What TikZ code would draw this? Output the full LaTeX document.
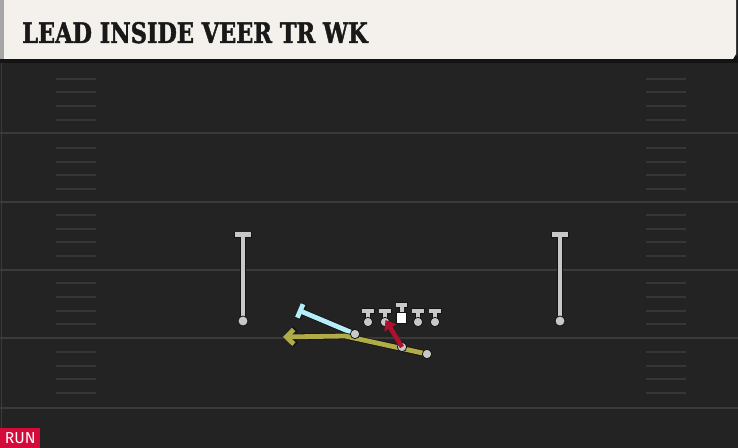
\documentclass[tikz,border=0pt]{standalone}
\usepackage{fontspec}
\newfontfamily\titlefont{DejaVu Serif Condensed}[BoldFeatures={FakeBold=1.6}]
\newfontfamily\tagfont{Fira Sans}
\usetikzlibrary{arrows.meta,positioning}

\definecolor{fieldbg}{HTML}{232323}
\definecolor{yardgray}{HTML}{3A3A3A}
\definecolor{hashgray}{HTML}{363636}
\definecolor{titlebg}{HTML}{F4F1EC}
\definecolor{playergray}{HTML}{C8C8C8}
\definecolor{outline}{HTML}{141414}
\definecolor{veerblue}{HTML}{B4EEF8}
\definecolor{leadolive}{HTML}{B0AD48}
\definecolor{blockred}{HTML}{AE102E}
\definecolor{runred}{HTML}{D40A3A}

\tikzset{
	yard/.style={yardgray,line width=1.6},
	hash/.style={hashgray,line width=1.3},
	dotplayer/.style={circle,fill=playergray,draw=outline,line width=0.6,inner sep=0pt,minimum size=7},
	rec/.style={playergray,line width=3.6},
	recline/.style={outline,line width=4.8},
	lineman/.pic={
		\draw[outline,line width=4.2] (-6.5,-11) -- (6.5,-11) (0,-11) -- (0,0);
		\draw[playergray,line width=3] (-6,-11) -- (6,-11) (0,-11) -- (0,0);
		\node[dotplayer] at (0,0) {};
	}
}

\begin{document}
\begin{tikzpicture}[x=0.75pt,y=-0.75pt]
	\fill[fieldbg] (0,0) rectangle (738,448);
	\useasboundingbox (0,0) rectangle (738,448);
	\draw[yardgray,line width=1.2] (1.5,60) -- (1.5,428);

	% field
	\foreach \y in {133,202,270,338,408}
		\draw[yard] (0,\y) -- (738,\y);
	\foreach \y in {79,92,106,120,148,162,175,189,215,229,242,256,283,297,311,324,352,366,379,393}
	{
		\draw[hash] (56,\y) -- (96,\y);
		\draw[hash] (646,\y) -- (686,\y);
	}

	% title bar
	\fill[outline] (0,56) rectangle (738,63);
	\fill[titlebg] (4,0) -- (736,0) -- (736,54) -- (733,59) -- (4,59) -- cycle;
	\fill[gray!70] (0,0) rectangle (4,59);
	\node[anchor=base west,inner sep=0pt,text=black!90] (title) at (22,43)
		{\resizebox{259pt}{15.75pt}{\titlefont\bfseries LEAD INSIDE VEER TR WK}};

	% receivers
	\coordinate (WRL) at (243,321);
	\coordinate (WRLtop) at (243,232);
	\coordinate (WRR) at (560,321);
	\coordinate (WRRtop) at (560,232);
	\foreach \w in {WRL,WRR}
	{
		\draw[recline,-{Bar[width=13]}] (\w) -- (\w top);
		\draw[rec,-{Bar[width=11.5]}] (\w) -- (\w top);
		\node[dotplayer,minimum size=7.5] (\w dot) at (\w) {};
	}

	% line
	\foreach \x [count=\n] in {368,385,418,435}
		\pic (OL\n) at (\x,322) {lineman};
	\coordinate (C) at (401.5,318);
	\draw[outline,line width=4.2] (395.5,305) -- (407.5,305) (401.5,305) -- (401.5,313);
	\draw[playergray,line width=3] (396,305) -- (407,305) (401.5,305) -- (401.5,313);
	\node[draw=outline,fill=white,line width=0.6,minimum width=7.5,minimum height=8.5,inner sep=0pt] (Csq) at (C) {};

	% backs
	\node[dotplayer] (FB) at (355,334) {};
	\node[dotplayer] (QB) at (402,347) {};
	\node[dotplayer] (RB) at (427,354) {};
	\coordinate (veerend) at (298,310);
	\coordinate (turn) at (345,336);
	\coordinate (leadend) at (283,337);
	\coordinate (blockend) at (385.5,320);

	% routes
	\draw[outline,line width=4.8,-{Bar[width=12]}] (FB.center) -- (veerend);
	\draw[veerblue,line width=3.6,-{Bar[width=11]}] (FB.center) -- (veerend);
	\draw[outline,line width=4.8,-{Straight Barb[length=6,width=12]},line join=round] (RB.center) -- (turn) -- (leadend);
	\draw[leadolive,line width=3.6,-{Straight Barb[length=5.5,width=11]},line join=round] (RB.center) -- (turn) -- (leadend);
	\node[dotplayer] at (FB) {};
	\node[dotplayer] at (QB) {};
	\node[dotplayer] at (RB) {};
	\draw[blockred,line width=3.4,-{Triangle[length=7,width=10]}] (QB.center) -- (blockend);

	% tag
	\node[fill=runred,text=white,anchor=south west,minimum width=30,minimum height=15,inner sep=0pt] (tag) at (0,448)
		{\resizebox{23pt}{8.2pt}{\tagfont RUN}};
\end{tikzpicture}
\end{document}
